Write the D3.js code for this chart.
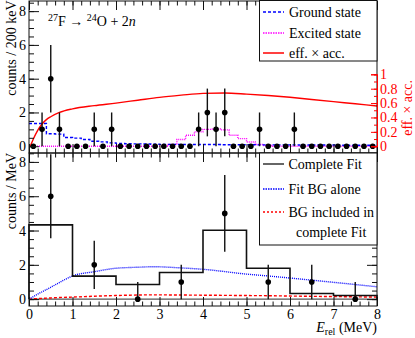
<!DOCTYPE html>
<html>
<head>
<meta charset="utf-8">
<script src="https://cdn.jsdelivr.net/npm/d3@7/dist/d3.min.js"></script>
<style>
  body { margin: 0; background: #fff; }
  svg { display: block; font-family: 'Liberation Serif', 'Times New Roman', serif; }
</style>
</head>
<body>
<svg width="415" height="338"></svg>
<script>
// ---- top pad: counts per 200 keV bin (0 - 8 MeV, 40 bins)
const topBinWidth = 0.2;
const topCounts = [0, 1, 4, 1, 0, 0, 0, 1, 0, 1,
  0, 0, 0, 0, 0, 0, 0, 0, 0, 1,
  2, 1, 2, 0, 0, 0, 1, 0, 0, 0,
  1, 0, 0, 0, 0, 0, 0, 0, 0, 0];
const groundState = [1.35, 1.35, 0.74, 0.72, 0.52, 0.48, 0.4, 0.3, 0.26, 0.2,
  0.17, 0.15, 0.14, 0.13, 0.12, 0.11, 0.11, 0.1, 0.1, 0.1,
  0.1, 0.1, 0.09, 0.09, 0.09, 0.09, 0.08, 0.08, 0.08, 0.08,
  0.08, 0.07, 0.07, 0.07, 0.07, 0.07, 0.06, 0.06, 0.06, 0.06];
const excitedState = [0, 0, 0, 0, 0, 0, 0, 0, 0, 0,
  0, 0, 0, 0, 0, 0, 0.1, 0.4, 0.65, 0.85,
  1.0, 1.02, 0.97, 0.65, 0.45, 0.25, 0.1, 0.04, 0, 0,
  0, 0, 0, 0, 0, 0, 0, 0, 0, 0];
// efficiency x acceptance (right axis)
const effE = [0.03, 0.1, 0.2, 0.3, 0.4, 0.5, 0.7, 1.0, 1.5, 2.0, 2.5, 3.0, 3.5, 4.0, 4.5, 5.0, 5.5, 6.0, 6.5, 7.0, 7.5, 8.0];
const effVal = [0, 0.1, 0.22, 0.31, 0.37, 0.41, 0.47, 0.52, 0.565, 0.6, 0.64, 0.68, 0.71, 0.735, 0.74, 0.725, 0.705, 0.68, 0.65, 0.62, 0.59, 0.56];

// ---- bottom pad: counts per MeV
const bottomBinWidth = 1;
const bottomCounts = [6, 2, 0, 1, 5, 1, 1, 0];
const bottomErrUp = [2.45, 1.41, 1, 1, 2.24, 1, 1, 1];
const bottomErrDown = [2.45, 1.41, 0, 1, 2.24, 1, 1, 0];
const completeFit = [4.33, 1.34, 0.85, 1.55, 4.02, 1.8, 0.33, 0.21];
const bgE = [0, 0.25, 0.5, 0.75, 1, 1.5, 2, 2.5, 2.85, 3.5, 4, 5, 5.5, 6, 7, 8];
const fitBgAlone = [0, 0.36, 0.69, 1.04, 1.35, 1.6, 1.8, 1.86, 1.89, 1.82, 1.74, 1.46, 1.35, 1.23, 0.98, 0.72];
const bgIncluded = [0, 0.04, 0.07, 0.1, 0.12, 0.17, 0.21, 0.24, 0.25, 0.24, 0.23, 0.21, 0.2, 0.18, 0.15, 0.12];

// tick labels
const xTicks = [0, 1, 2, 3, 4, 5, 6, 7, 8];
const yTicks = [0, 2, 4, 6, 8];
const effTicks = [0, 0.2, 0.4, 0.6, 0.8, 1];

const svg = d3.select('svg');

const left = 29;
const right = 377;
const x = d3.scaleLinear().domain([0, 8]).range([left, right]);
const yTop = d3.scaleLinear().domain([-0.4, 8.6]).range([153, 1]);
const yEff = d3.scaleLinear().domain([0, 1]).range([yTop(0), 74.3]);
const yBot = d3.scaleLinear().domain([-0.4, 8.52]).range([306, 153]);

const xMinor = d3.range(0, 8.001, 0.2);
const yMinor = d3.range(0, 8.51, 0.5);

// turns bin values into a step outline
const steps = (vals, width) => vals.flatMap((v, i) => [[i * width, v], [(i + 1) * width, v]]);

const stepPath = (vals, width, ys, fromZero) => {
  let pts = steps(vals, width);
  if (fromZero) pts = [[0, 0], ...pts, [vals.length * width, 0]];
  return d3.line().x(d => x(d[0])).y(d => ys(d[1]))(pts);
};

const smooth = (xs, vals, ys) => d3.line()
  .curve(d3.curveMonotoneX)
  .x((d, i) => x(xs[i]))
  .y(d => ys(d))(vals);

// draws the tick marks of one pad (ticks inside the frame)
const drawTicks = (g, ys, y0, y1, withRight) => {
  g.append('g').attr('transform', `translate(0,${y1})`)
    .call(d3.axisBottom(x).tickValues(xMinor).tickSize(-4.5).tickFormat(''));
  g.append('g').attr('transform', `translate(0,${y1})`)
    .call(d3.axisBottom(x).tickValues(xTicks).tickSize(-9).tickFormat(''));
  g.append('g').attr('transform', `translate(0,${y0})`)
    .call(d3.axisTop(x).tickValues(xMinor).tickSize(-4.5).tickFormat(''));
  g.append('g').attr('transform', `translate(0,${y0})`)
    .call(d3.axisTop(x).tickValues(xTicks).tickSize(-9).tickFormat(''));
  g.append('g').attr('transform', `translate(${left},0)`)
    .call(d3.axisLeft(ys).tickValues(yMinor).tickSize(-5).tickFormat(''));
  g.append('g').attr('class', 'ylab').attr('transform', `translate(${left},0)`)
    .call(d3.axisLeft(ys).tickValues(yTicks).tickSize(-10).tickPadding(3).tickFormat(d3.format('d')));
  if (withRight) {
    g.append('g').attr('transform', `translate(${right},0)`)
      .call(d3.axisRight(ys).tickValues(yMinor).tickSize(-5).tickFormat(''));
    g.append('g').attr('transform', `translate(${right},0)`)
      .call(d3.axisRight(ys).tickValues(yTicks).tickSize(-10).tickFormat(''));
  }
  g.selectAll('.domain').remove();
  g.selectAll('.tick line').attr('stroke', '#111');
  g.selectAll('.tick text').attr('font-family', 'Liberation Serif').attr('font-size', 14).attr('fill', '#000');
};

// markers with vertical error bars; bins without error get no bar
const drawPoints = (g, xs, vals, up, down, ys) => {
  const pts = vals.map((v, i) => ({ e: xs[i], v, up: up[i], down: down[i] }));
  g.selectAll(null).data(pts.filter(p => p.up > 0 || p.down > 0)).enter().append('line')
    .attr('x1', p => x(p.e)).attr('x2', p => x(p.e))
    .attr('y1', p => ys(p.v + p.up))
    .attr('y2', p => ys(Math.max(0, p.v - p.down)))
    .attr('stroke', '#111').attr('stroke-width', 1.4);
  g.selectAll(null).data(pts).enter().append('circle')
    .attr('cx', p => x(p.e))
    .attr('cy', p => ys(p.v))
    .attr('r', 2.8)
    .attr('fill', '#000');
};

// ================= top pad =================
const gTop = svg.append('g');
gTop.append('path').attr('d', stepPath(excitedState, topBinWidth, yTop))
  .attr('fill', 'none').attr('stroke', '#ff00ff').attr('stroke-width', 1.4).attr('stroke-dasharray', '1,1');
gTop.append('path').attr('d', stepPath(groundState, topBinWidth, yTop))
  .attr('fill', 'none').attr('stroke', '#0000ff').attr('stroke-width', 1.4).attr('stroke-dasharray', '3,2');
gTop.append('path').attr('d', smooth(effE, effVal, yEff))
  .attr('fill', 'none').attr('stroke', '#ff0000').attr('stroke-width', 1.4);

const topCenters = topCounts.map((d, i) => (i + 0.5) * topBinWidth);
const topErr = topCounts.map(d => Math.sqrt(d));
drawPoints(gTop, topCenters, topCounts, topErr, topErr, yTop);

gTop.append('rect').attr('x', left).attr('y', 1).attr('width', right - left).attr('height', 152)
  .attr('fill', 'none').attr('stroke', '#111');
drawTicks(gTop, yTop, 1, 153, false);

// red eff x acc axis on the right
const effAxis = gTop.append('g').attr('transform', `translate(${right},0)`);
effAxis.append('g').call(d3.axisRight(yEff).tickValues(d3.range(0, 1.001, 0.1)).tickSize(-3).tickFormat(''));
effAxis.append('g').call(d3.axisRight(yEff).tickValues(effTicks).tickSize(-6).tickPadding(3).tickFormat(d => d));
effAxis.selectAll('.domain').attr('stroke', '#ff0000');
effAxis.selectAll('.tick line').attr('stroke', '#ff0000');
effAxis.selectAll('.tick text').attr('font-family', 'Liberation Serif').attr('font-size', 14).attr('fill', '#ff0000');

gTop.append('text')
  .attr('transform', 'translate(411.5,80) rotate(-90)')
  .attr('text-anchor', 'end').attr('font-size', 14).attr('fill', '#ff0000')
  .text('eff. × acc.');

gTop.append('text')
  .attr('transform', 'translate(15.5,0.5) rotate(-90)')
  .attr('text-anchor', 'end').attr('font-size', 14)
  .text('counts / 200 keV');

// reaction label
const reaction = gTop.append('text').attr('x', 48).attr('y', 26).attr('font-size', 14);
reaction.append('tspan').attr('font-size', 10).attr('dy', -5).text('27');
reaction.append('tspan').attr('dy', 5).text('F → ');
reaction.append('tspan').attr('font-size', 10).attr('dy', -5).text('24');
reaction.append('tspan').attr('dy', 5).text('O + 2');
reaction.append('tspan').attr('font-style', 'italic').text('n');

// top legend
const topLegend = [
  { label: 'Ground state', color: '#0000ff', dash: '3,2', y: 16.5 },
  { label: 'Excited state', color: '#ff00ff', dash: '1.5,1', y: 37.5 },
  { label: 'eff. × acc.', color: '#ff0000', dash: null, y: 57.5 },
];
gTop.append('rect').attr('x', 259.5).attr('y', 0.5).attr('width', right - 259.5).attr('height', 60.5)
  .attr('fill', '#fff').attr('stroke', '#111');
topLegend.forEach(d => {
  gTop.append('line').attr('x1', 263).attr('x2', 284).attr('y1', d.y - 4.5).attr('y2', d.y - 4.5)
    .attr('stroke', d.color).attr('stroke-width', 1.5).attr('stroke-dasharray', d.dash);
  gTop.append('text').attr('x', 289).attr('y', d.y).attr('font-size', 14).text(d.label);
});

// ================= bottom pad =================
const gBot = svg.append('g');
gBot.append('line').attr('x1', left).attr('x2', right).attr('y1', yBot(0)).attr('y2', yBot(0))
  .attr('stroke', '#555').attr('stroke-width', 1.2);
gBot.append('path').attr('d', smooth(bgE, bgIncluded, yBot))
  .attr('fill', 'none').attr('stroke', '#ff0000').attr('stroke-width', 1.4).attr('stroke-dasharray', '3,2');
gBot.append('path').attr('d', smooth(bgE, fitBgAlone, yBot))
  .attr('fill', 'none').attr('stroke', '#0000ff').attr('stroke-width', 1.4).attr('stroke-dasharray', '1,1');
gBot.append('path').attr('d', stepPath(completeFit, bottomBinWidth, yBot, true))
  .attr('fill', 'none').attr('stroke', '#111').attr('stroke-width', 1.6);

const botCenters = bottomCounts.map((d, i) => (i + 0.5) * bottomBinWidth);
drawPoints(gBot, botCenters, bottomCounts, bottomErrUp, bottomErrDown, yBot);

gBot.append('rect').attr('x', left).attr('y', 153).attr('width', right - left).attr('height', 153)
  .attr('fill', 'none').attr('stroke', '#111');
drawTicks(gBot, yBot, 153, 306, true);

// x tick labels
gBot.append('g').attr('transform', 'translate(0,306)')
  .call(d3.axisBottom(x).tickValues(xTicks).tickSize(0).tickPadding(3).tickFormat(d3.format('d')))
  .call(g => g.select('.domain').remove())
  .selectAll('text').attr('font-family', 'Liberation Serif').attr('font-size', 14).attr('fill', '#000');

gBot.append('text')
  .attr('transform', 'translate(15.5,153) rotate(-90)')
  .attr('text-anchor', 'end').attr('font-size', 14)
  .text('counts / MeV');

const xTitle = gBot.append('text').attr('x', right).attr('y', 332).attr('text-anchor', 'end').attr('font-size', 14);
xTitle.append('tspan').attr('font-style', 'italic').text('E');
xTitle.append('tspan').attr('font-size', 10).attr('dy', 3).text('rel');
xTitle.append('tspan').attr('dy', -3).text(' (MeV)');

// bottom legend
const bottomLegend = [
  { label: 'Complete Fit', color: '#333', dash: null, y: 168.5 },
  { label: 'Fit BG alone', color: '#0000ff', dash: '1.5,1', y: 193.5 },
  { label: 'BG included in', color: '#ff0000', dash: '2,2', y: 216.5 },
];
gBot.append('rect').attr('x', 259.5).attr('y', 153).attr('width', right - 259.5).attr('height', 92)
  .attr('fill', '#fff').attr('stroke', '#111');
bottomLegend.forEach(d => {
  gBot.append('line').attr('x1', 263).attr('x2', 284).attr('y1', d.y - 4.5).attr('y2', d.y - 4.5)
    .attr('stroke', d.color).attr('stroke-width', 1.5).attr('stroke-dasharray', d.dash);
  gBot.append('text').attr('x', 288.5).attr('y', d.y).attr('font-size', 14).text(d.label);
});
gBot.append('text').attr('x', 296).attr('y', 237).attr('font-size', 14).text('complete Fit');
</script>
</body>
</html>
